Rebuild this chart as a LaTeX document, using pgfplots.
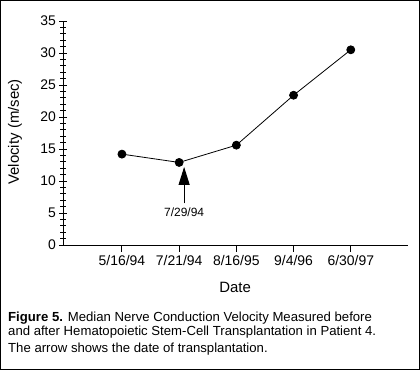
\documentclass[border=0pt]{standalone}
\usepackage{pgfplots}
\pgfplotsset{compat=1.18}
\usepackage{fontspec}
\setmainfont{Liberation Sans}
\usetikzlibrary{arrows.meta}
\begin{document}
\begin{tikzpicture}[x=1bp,y=1bp]
\useasboundingbox (0,0) rectangle (420,370);
\draw[line width=1.5bp] (0.75,0.75) rectangle (419.25,369.25);
\begin{axis}[
  at={(63bp,125bp)}, anchor=south west,
  scale only axis, width=345bp, height=224bp,
  axis lines*=left,
  axis line style={line width=0.9bp},
  xmin=-1.03, xmax=5.0, ymin=0, ymax=35,
  xtick={0,1,2,3,4},
  xticklabels={5/16/94,7/21/94,8/16/95,9/4/96,6/30/97},
  ytick={0,5,10,15,20,25,30,35},
  minor y tick num=4,
  ytick align=center, xtick align=outside,
  major tick length=7bp, minor tick length=5bp,
  tick style={line width=0.9bp, black},
  /pgf/number format/assume math mode=true,
  tick label style={font=\fontsize{14}{16}\selectfont},
  label style={font=\fontsize{15}{17}\selectfont},
  xlabel={Date}, ylabel={Velocity (m/sec)},
  xlabel style={at={(axis description cs:0.499,-0.188)}, anchor=center},
  ylabel style={at={(axis description cs:-0.139,0.505)}, anchor=center},
  clip=false,
]
\addplot[black, line width=0.8bp, mark=*, mark size=4bp, mark options={fill=black}]
  coordinates {(0,14.2) (1,12.9) (2,15.6) (3,23.4) (4,30.5)};
\addplot[black, line width=1bp, -{Triangle[length=18bp,width=11bp]}]
  coordinates {(1.087,6.5) (1.087,12.2)};
\node[font=\fontsize{12}{14}\selectfont] at (axis cs:1.087,5.05) {7/29/94};
\end{axis}
\begin{scope}[every node/.style={anchor=base west, inner sep=0pt, font=\fontsize{13.2}{15}\selectfont}]
\node at (8,49) {\textbf{Figure 5.} Median Nerve Conduction Velocity Measured before};
\node at (8,35) {and after Hematopoietic Stem-Cell Transplantation in Patient 4.};
\node at (8,18) {The arrow shows the date of transplantation.};
\end{scope}
\end{tikzpicture}
\end{document}
